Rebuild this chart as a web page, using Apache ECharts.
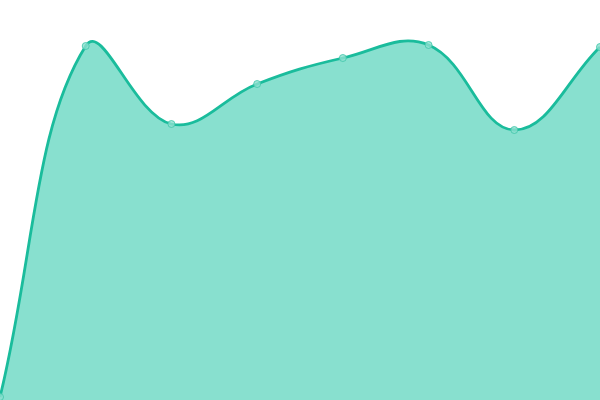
<!DOCTYPE html>
<html><head><meta charset="utf-8">
<script src="https://cdn.jsdelivr.net/npm/echarts@6/dist/echarts.min.js"></script>
<style>html,body{margin:0;padding:0;background:#fff}#c{width:600px;height:400px}</style>
</head><body><div id="c"></div>
<script>
const categories = ['1','2','3','4','5','6','7','8'];
const values = [3, 354, 276, 316, 342, 355, 270, 353];
const tension = 0.4;

function splineCP(prev, cur, next, t) {
  const d01 = Math.hypot(cur[0]-prev[0], cur[1]-prev[1]);
  const d12 = Math.hypot(next[0]-cur[0], next[1]-cur[1]);
  let s01 = d01/(d01+d12), s12 = d12/(d01+d12);
  if (isNaN(s01)) s01 = 0; if (isNaN(s12)) s12 = 0;
  const fa = t*s01, fb = t*s12;
  return {
    prev: [cur[0]-fa*(next[0]-prev[0]), cur[1]-fa*(next[1]-prev[1])],
    next: [cur[0]+fb*(next[0]-prev[0]), cur[1]+fb*(next[1]-prev[1])]
  };
}

function renderCurve(params, api) {
  if (params.dataIndexInside !== 0) return null;
  const pts = values.map((v,i)=>api.coord([i, v]));
  const n = pts.length;
  const cps = pts.map((p,i)=>splineCP(pts[Math.max(i-1,0)], p, pts[Math.min(i+1,n-1)], tension));
  let d = 'M' + pts[0][0] + ' ' + pts[0][1];
  for (let i = 0; i < n-1; i++) {
    const a = cps[i].next, b = cps[i+1].prev, p = pts[i+1];
    d += ' C' + a[0] + ' ' + a[1] + ' ' + b[0] + ' ' + b[1] + ' ' + p[0] + ' ' + p[1];
  }
  const base = api.coord([0, 0])[1];
  const area = d + ' L' + pts[n-1][0] + ' ' + base + ' L' + pts[0][0] + ' ' + base + ' Z';
  return {
    type: 'group',
    children: [
      {type: 'path', shape: {pathData: area}, style: {fill: '#88e0cf', stroke: null}},
      {type: 'path', shape: {pathData: d}, style: {fill: null, stroke: '#1abc9c', lineWidth: 2.8}}
    ]
  };
}

const chart = echarts.init(document.getElementById('c'), null, {renderer:'canvas'});
chart.setOption({
  animation: false,
  grid: {left: 0, right: 0, top: 0, bottom: 0},
  xAxis: {type: 'category', data: categories, boundaryGap: false, show: false},
  yAxis: {type: 'value', min: 0, max: 400, show: false},
  series: [{
    type: 'custom', renderItem: renderCurve, data: values.map((v,i)=>[i,v]),
    encode: {x: 0, y: 1}, clip: false, silent: true, z: 2
  }, {
    type: 'scatter', data: values.map((v,i)=>[i,v]), symbol: 'circle', symbolSize: 7,
    itemStyle: {color: '#8ce0cf', borderColor: '#3fc5a9', borderWidth: 1}, z: 3
  }]
});
</script></body></html>
